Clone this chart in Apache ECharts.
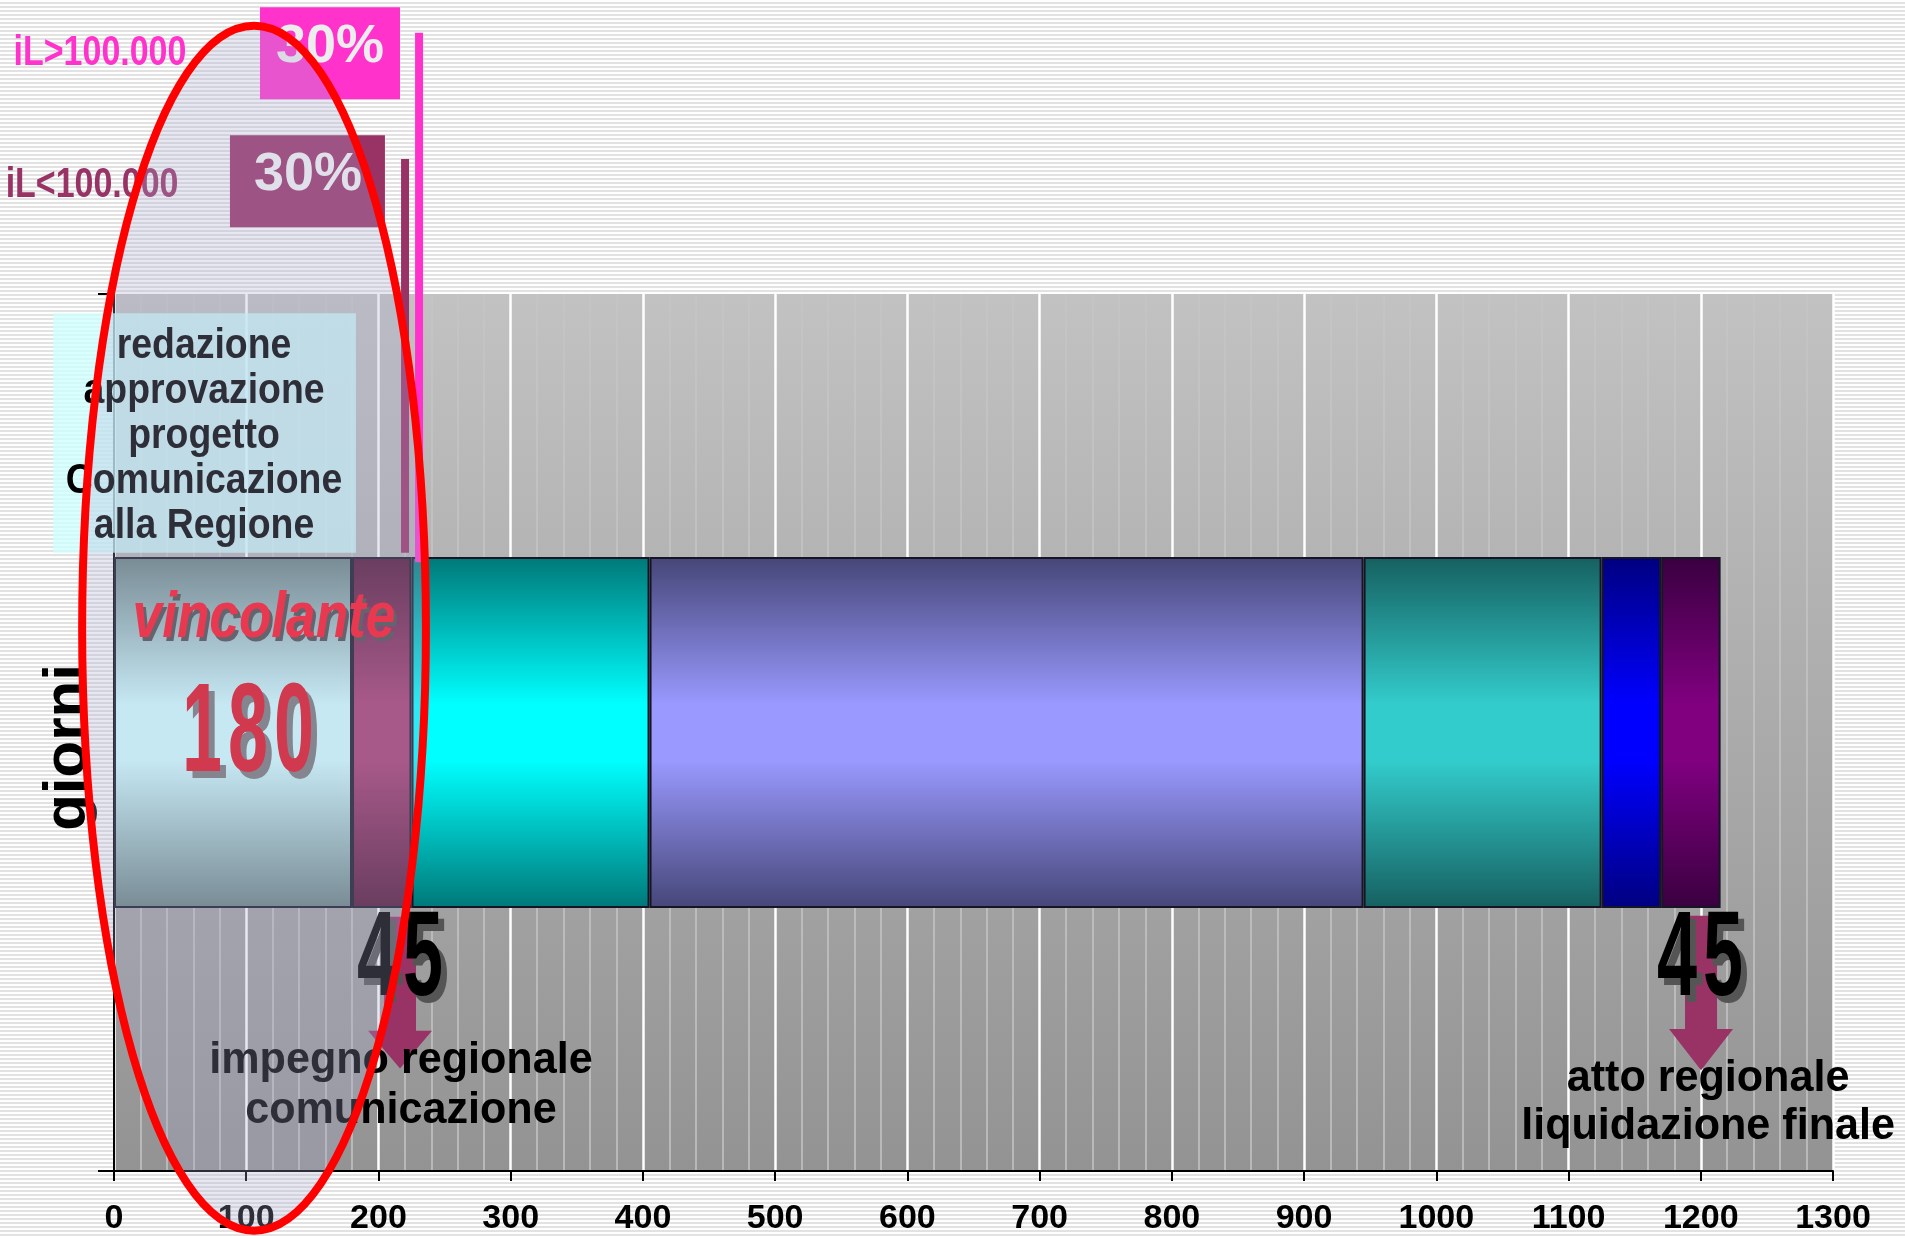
<!DOCTYPE html>
<html>
<head>
<meta charset="utf-8">
<script src="https://cdn.jsdelivr.net/npm/echarts@6/dist/echarts.min.js"></script>
<style>
html,body{margin:0;padding:0;}
body{background:repeating-linear-gradient(to bottom,#fefefe 0px,#fefefe 2px,#e2e2e2 2px,#e2e2e2 4px);}
#c{width:1905px;height:1236px;}
</style>
</head>
<body>
<div id="c"></div>
<script>
// ---------------- data ----------------
const categories = ['giorni'];
const phaseNames = ['Fase 1', 'Fase 2', 'Fase 3', 'Fase 4', 'Fase 5', 'Fase 6', 'Fase 7'];
const phaseDays = [180, 45, 180, 540, 180, 45, 45];
const axisMin = 0;
const axisMax = 1300;
const axisStep = 100;
const yAxisTitle = 'giorni';
const thresholdLabels = ['iL>100.000', 'iL<100.000'];
const advancePercent = [30, 30];
const boxLines = ['redazione', 'approvazione', 'progetto', 'Comunicazione', 'alla Regione'];
const noteConstraint = 'vincolante';
const noteCommitment = ['impegno regionale', 'comunicazione'];
const noteFinal = ['atto regionale', 'liquidazione finale'];

// ---------------- styles ----------------
const phaseColors = [
  ['#67817f', '#d0ffff'],
  ['#521635', '#a73c6f'],
  ['#007878', '#00ffff'],
  ['#464678', '#9999ff'],
  ['#166060', '#33cccc'],
  ['#000080', '#0000ff'],
  ['#3a0040', '#800080']
];
const FONT = '"Liberation Sans", Arial, sans-serif';
const spaced = (n) => String(n).split('').join('\u200a');

function grad(edge, mid) {
  return new echarts.graphic.LinearGradient(0, 0, 0, 1, [
    {offset: 0, color: edge},
    {offset: 0.42, color: mid},
    {offset: 0.58, color: mid},
    {offset: 1, color: edge}
  ]);
}

const chart = echarts.init(document.getElementById('c'), null, {renderer: 'canvas'});

const option = {
  animation: false,
  backgroundColor: 'transparent',
  grid: {
    left: 114, right: 72, top: 294, bottom: 63,
    show: true, borderWidth: 0,
    backgroundColor: new echarts.graphic.LinearGradient(0, 0, 0, 1, [
      {offset: 0, color: '#c2c2c2'},
      {offset: 1, color: '#939393'}
    ])
  },
  xAxis: {
    type: 'value', min: axisMin, max: axisMax, interval: axisStep,
    axisLine: {show: true, onZero: false, lineStyle: {color: '#000', width: 2}},
    axisTick: {show: true, length: 10, lineStyle: {color: '#000', width: 2}},
    axisLabel: {margin: 31, color: '#000', fontFamily: FONT, fontWeight: 'bold', fontSize: 34,
      formatter: (v) => String(v)},
    splitLine: {show: true, lineStyle: {color: '#ffffff', width: 2.5}},
    minorTick: {show: false, splitNumber: 5},
    minorSplitLine: {show: true, lineStyle: {color: '#c5c5c5', width: 1.5}}
  },
  yAxis: [
    {
      type: 'category', data: categories,
      axisLine: {show: true, lineStyle: {color: '#000', width: 2}},
      axisTick: {show: true, length: 16, lineStyle: {color: '#000', width: 2}},
      axisLabel: {show: false},
      splitLine: {show: false},
      name: yAxisTitle, nameLocation: 'middle', nameRotate: 90, nameGap: 16,
      nameTextStyle: {fontFamily: FONT, fontWeight: 'bold', fontSize: 60, color: '#000', padding: [0, 30, 0, 0]}
    },
    {type: 'value', min: 0, max: 100, show: false}
  ],
  series: phaseDays.map((d, i) => ({
    type: 'bar', name: phaseNames[i], stack: 'total', data: [d],
    barWidth: '40%',
    itemStyle: {color: grad(phaseColors[i][0], phaseColors[i][1]), borderColor: '#151525', borderWidth: 2},
    emphasis: {disabled: true}
  }))
};
chart.setOption(option);

// ---------------- annotations (anchored in data units: x = days, y = 0..100 of plot height) ----------------
const P = (x, y) => chart.convertToPixel({xAxisIndex: 0, yAxisIndex: 1}, [x, y]);

function txt(x, y, text, o) {
  const p = P(x, y);
  return {
    type: 'text', x: p[0] + (o.dx || 0), y: p[1] + (o.dy || 0), scaleX: o.sx || 1, z: o.z || 30,
    style: {
      text: text, x: 0, y: 0, fill: o.fill, font: o.font,
      textAlign: 'center', align: 'center', textVerticalAlign: 'middle', verticalAlign: 'middle',
      lineHeight: o.lh
    }
  };
}
function rect(x1, y1, x2, y2, fill, z) {
  const a = P(x1, y1), b = P(x2, y2);
  return {type: 'rect', z: z || 10, shape: {x: Math.min(a[0], b[0]), y: Math.min(a[1], b[1]), width: Math.abs(b[0] - a[0]), height: Math.abs(b[1] - a[1])}, style: {fill: fill}};
}
function vbar(x, y1, y2, w, fill, z) {
  const a = P(x, y1), b = P(x, y2);
  return {type: 'rect', z: z || 10, shape: {x: a[0] - w / 2, y: Math.min(a[1], b[1]), width: w, height: Math.abs(b[1] - a[1])}, style: {fill: fill}};
}
function arrow(x, yTop, yBase, yTip, shaftHalf, headHalf, fill) {
  const t = P(x, yTop), b = P(x, yBase), tip = P(x, yTip);
  const cx = t[0];
  return {type: 'polygon', z: 25, shape: {points: [
    [cx - shaftHalf, t[1]], [cx + shaftHalf, t[1]], [cx + shaftHalf, b[1]], [cx + headHalf, b[1]],
    [cx, tip[1]], [cx - headHalf, b[1]], [cx - shaftHalf, b[1]]
  ]}, style: {fill: fill}};
}

const g = [];
// project box
g.push(rect(-46, 97.8, 183, 70.5, 'rgba(204,255,255,0.75)', 8));
g.push(txt(68.1, 83.8, boxLines.join('\n'), {font: 'bold 43px ' + FONT, fill: '#000', sx: 0.87, lh: 45}));
// thresholds and advances
g.push(rect(110.4, 132.7, 216.3, 122.2, '#ff33cc', 10));
g.push(rect(87.7, 118.1, 204.9, 107.6, '#993366', 10));
g.push(txt(163.3, 128.1, advancePercent[0] + '%', {font: 'bold 54px ' + FONT, fill: '#ededed'}));
g.push(txt(146.7, 113.5, advancePercent[1] + '%', {font: 'bold 54px ' + FONT, fill: '#f4f4f4'}));
g.push(txt(-10.6, 127.5, thresholdLabels[0], {font: 'bold 43px ' + FONT, fill: '#ff33cc', sx: 0.79}));
g.push(txt(-16.6, 112.4, thresholdLabels[1], {font: 'bold 43px ' + FONT, fill: '#993366', sx: 0.79}));
g.push(vbar(230.7, 129.8, 69.4, 8, '#ff33cc', 12));
g.push(vbar(220.1, 115.4, 70.5, 8, '#993366', 12));
// vincolante + 180
g.push(txt(113.4, 62.9, noteConstraint, {font: 'italic bold 64px ' + FONT, fill: '#4a4a4a', sx: 0.83, dx: 3, dy: 4, z: 30}));
g.push(txt(113.4, 62.9, noteConstraint, {font: 'italic bold 64px ' + FONT, fill: '#ff1020', sx: 0.83, z: 31}));
g.push(txt(101.3, 49.6, spaced(phaseDays[0]), {font: 'bold 126px ' + FONT, fill: '#787878', sx: 0.57, dx: 6, dy: 7, z: 30}));
g.push(txt(101.3, 49.6, spaced(phaseDays[0]), {font: 'bold 126px ' + FONT, fill: '#e0101e', sx: 0.57, z: 31}));
// 45 left + arrow
g.push(arrow(216.3, 29.0, 16.0, 11.7, 16, 32, '#993366'));
g.push(txt(216.3, 23.8, spaced(phaseDays[1]), {font: 'bold 120px ' + FONT, fill: '#555555', sx: 0.6, dx: 6, dy: 7, z: 30}));
g.push(txt(216.3, 23.8, spaced(phaseDays[1]), {font: 'bold 120px ' + FONT, fill: '#000', sx: 0.6, z: 31}));
g.push(txt(217.0, 9.7, noteCommitment.join('\n'), {font: 'bold 44px ' + FONT, fill: '#000', sx: 0.98, lh: 50, z: 32}));
// 45 right + arrow
g.push(arrow(1200.2, 29.1, 16.2, 11.5, 16, 32, '#993366'));
g.push(txt(1199.4, 23.8, spaced(phaseDays[6]), {font: 'bold 120px ' + FONT, fill: '#555555', sx: 0.6, dx: 6, dy: 7, z: 30}));
g.push(txt(1199.4, 23.8, spaced(phaseDays[6]), {font: 'bold 120px ' + FONT, fill: '#000', sx: 0.6, z: 31}));
g.push(txt(1205.5, 7.8, noteFinal.join('\n'), {font: 'bold 44px ' + FONT, fill: '#000', sx: 0.98, lh: 48, z: 32}));
// highlight ellipse
(function () {
  const c = P(105.9, 61.9), r = P(105.9 + 130, 61.9 + 68.7);
  g.push({type: 'ellipse', z: 100, shape: {cx: c[0], cy: c[1], rx: Math.abs(r[0] - c[0]), ry: Math.abs(c[1] - r[1])},
    style: {fill: 'rgba(170,170,210,0.27)', stroke: '#ff0000', lineWidth: 8}});
})();

chart.setOption({graphic: {elements: g}});
</script>
</body>
</html>
